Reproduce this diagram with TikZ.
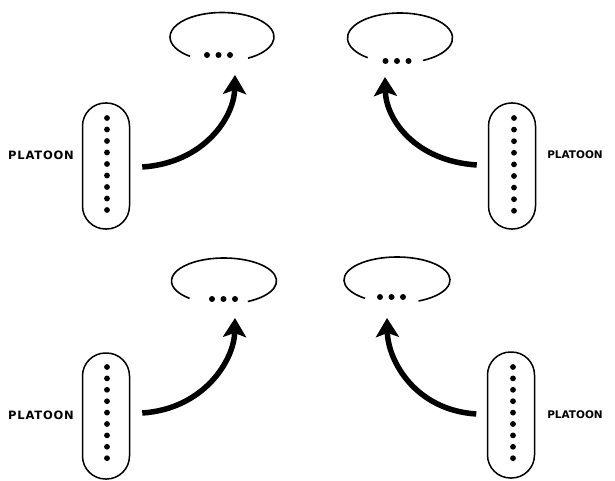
\documentclass[tikz,border=0pt]{standalone}
\usepackage{fontspec}
\setmainfont{DejaVu Sans}
\usetikzlibrary{arrows.meta}
\tikzset{
  outline/.style={line width=1.6pt},
  pill/.style={draw, line width=1.5pt, rounded corners=23pt, minimum width=47pt, minimum height=126pt, inner sep=0pt},
  grp/.style={inner sep=0pt, minimum width=30pt, minimum height=6pt},
  lblleft/.style={inner sep=0pt, font=\fontsize{11.5}{12}\selectfont\bfseries\addfontfeature{LetterSpace=7}},
  lblright/.style={inner sep=0pt, font=\fontsize{10.5}{12}\selectfont\bfseries},
  move/.style={line width=5.5pt, -{Stealth[length=19pt,width=23pt,inset=4pt]}},
}
\begin{document}
\begin{tikzpicture}[x=1pt,y=1pt]
\useasboundingbox (0,0) rectangle (615,-481);
% ---------- top left ----------
\node[pill] (p1) at (106,-166) {};
\foreach \i in {0,...,8} \fill (107,-118-11.5*\i) circle (2.9pt);
\node[grp] (g1) at (218.5,-55) {};
\foreach \dx in {-11.5,0,11.5} \fill ([xshift=\dx pt]g1.center) circle (3pt);
\draw[outline] ([shift={(222,-37)}]-60:52pt and 24.5pt) arc[start angle=-60,end angle=232,x radius=52pt,y radius=24.5pt];
\node[lblleft] (l1) at (41,-155) {PLATOON};
\coordinate (s1) at ([xshift=12pt,yshift=-1pt]p1.east);
\coordinate (t1) at ([xshift=16.5pt,yshift=-20pt]g1.center);
\draw[move] (s1) .. controls +(61,4) and +(-1,-43) .. (t1);
% ---------- top right ----------
\node[pill] (p2) at (512,-166) {};
\foreach \i in {0,...,8} \fill (514,-118-11.6*\i) circle (2.9pt);
\node[grp] (g2) at (397,-61) {};
\foreach \dx in {-11.5,0,11.5} \fill ([xshift=\dx pt]g2.center) circle (3pt);
\draw[outline] ([shift={(400,-38)}]-64:52.5pt and 25pt) arc[start angle=-64,end angle=232,x radius=52.5pt,y radius=25pt];
\node[lblright] (l2) at (575,-155) {PLATOON};
\coordinate (s2) at ([xshift=-11pt,yshift=1pt]p2.west);
\coordinate (t2) at ([xshift=-12pt,yshift=-16pt]g2.center);
\draw[move] (s2) .. controls +(-61,4) and +(1,-43) .. (t2);
% ---------- bottom left ----------
\node[pill] (p3) at (106,-416) {};
\foreach \i in {0,...,8} \fill (107,-367-11.4*\i) circle (2.9pt);
\node[grp] (g3) at (223.5,-299) {};
\foreach \dx in {-11.5,0,11.5} \fill ([xshift=\dx pt]g3.center) circle (3pt);
\draw[outline] ([shift={(224,-281)}]-63:52.5pt and 23pt) arc[start angle=-63,end angle=229,x radius=52.5pt,y radius=23pt];
\node[lblleft] (l3) at (41,-415) {PLATOON};
\coordinate (s3) at ([xshift=12pt,yshift=3pt]p3.east);
\coordinate (t3) at ([xshift=11.5pt,yshift=-19pt]g3.center);
\draw[move] (s3) .. controls +(61,4) and +(-1,-43) .. (t3);
% ---------- bottom right ----------
\node[pill] (p4) at (511,-415) {};
\foreach \i in {0,...,8} \fill (513,-367-11.4*\i) circle (2.9pt);
\node[grp] (g4) at (391.5,-297) {};
\foreach \dx in {-11.5,0,11.5} \fill ([xshift=\dx pt]g4.center) circle (3pt);
\draw[outline] ([shift={(397,-280)}]-66:53pt and 23pt) arc[start angle=-66,end angle=233,x radius=53pt,y radius=23pt];
\node[lblright] (l4) at (575,-415) {PLATOON};
\coordinate (s4) at ([xshift=-10.5pt,yshift=1pt]p4.west);
\coordinate (t4) at ([xshift=-4.5pt,yshift=-21pt]g4.center);
\draw[move] (s4) .. controls +(-61,4) and +(1,-43) .. (t4);
\end{tikzpicture}
\end{document}
